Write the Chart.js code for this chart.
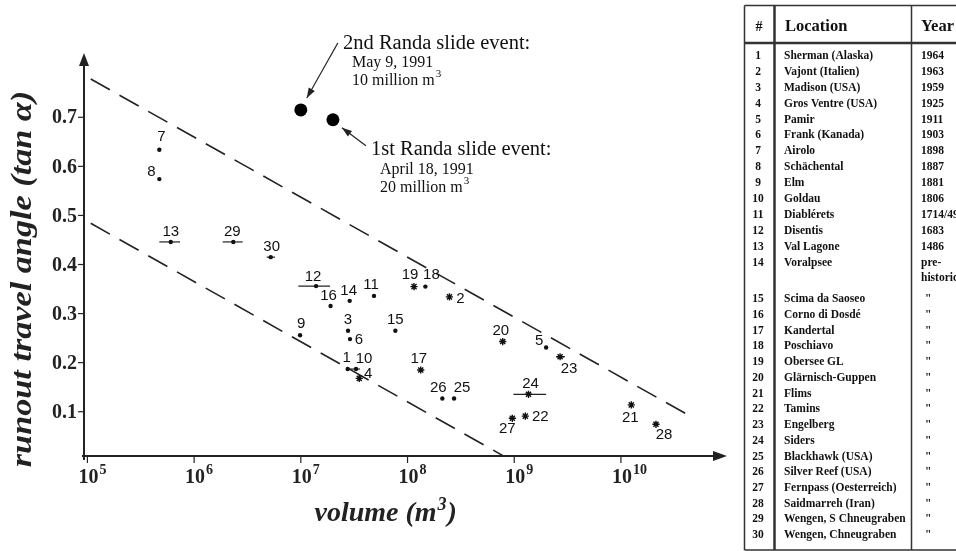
<!DOCTYPE html>
<html>
<head>
<meta charset="utf-8">
<script src="https://cdn.jsdelivr.net/npm/chart.js@4.4.1/dist/chart.umd.min.js"></script>
<style>
  html, body { margin: 0; padding: 0; background: #fff; }
  canvas { display: block; }
</style>
</head>
<body>
<canvas id="runoutChart" width="956" height="551"></canvas>
<script>
// --- data ---
const eventIds = [1, 2, 3, 4, 5, 6, 7, 8, 9, 10, 11, 12, 13, 14, 15, 16, 17, 18, 19, 20, 21, 22, 23, 24, 25, 26, 27, 28, 29, 30];
const volumes = [2.75e7, 2.47e8, 2.77e7, 3.53e7, 1.99e9, 2.89e7, 4.72e5, 4.72e5, 9.84e6, 3.29e7,
                 4.85e7, 1.39e7, 6.04e5, 2.87e7, 7.69e7, 1.9e7, 1.33e8, 1.47e8, 1.15e8, 7.8e8,
                 1.25e10, 1.27e9, 2.69e9, 1.36e9, 2.73e8, 2.12e8, 9.6e8, 2.13e10, 2.33e6, 5.22e6];
const angles = [0.187, 0.334, 0.265, 0.168, 0.231, 0.248, 0.634, 0.574, 0.256, 0.187,
                0.336, 0.356, 0.446, 0.326, 0.265, 0.3155, 0.185, 0.355, 0.355, 0.243,
                0.114, 0.091, 0.212, 0.1355, 0.127, 0.127, 0.0866, 0.0744, 0.446, 0.415];
// events drawn as asterisks, the rest as dots
const starIds = [2, 4, 17, 19, 20, 21, 22, 23, 24, 27, 28];

// volume ranges (horizontal bars)
const rangeIds = [13, 29, 30, 12, 1, 23, 24];
const rangeLow = [4.72e5, 1.85e6, 4.79e6, 9.48e6, 2.69e7, 2.47e9, 9.82e8];
const rangeHigh = [7.38e5, 2.85e6, 5.73e6, 1.88e7, 3.59e7, 2.99e9, 1.99e9];

// Randa events
const randaVolumes = [1.0e7, 2.0e7];
const randaAngles = [0.715, 0.695];
const randaTitles = ['2nd Randa slide event:', '1st Randa slide event:'];
const randaDates = ['May 9, 1991', 'April 18, 1991'];
const randaSizes = ['10 million m', '20 million m'];

// dashed envelope lines
const upperVolumes = [1.074e5, 4.14e10];
const upperAngles = [0.778, 0.095];
const lowerVolumes = [1.074e5, 7.91e8];
const lowerAngles = [0.484, 0.010];

// axes
const xTickExps = [5, 6, 7, 8, 9, 10];
const yTicks = [0.1, 0.2, 0.3, 0.4, 0.5, 0.6, 0.7];
const xTitle = 'volume (m';
const yTitle = 'runout travel angle (tan \u03B1)';

// table
const tableHead = ['#', 'Location', 'Year'];
const locations = ['Sherman (Alaska)', 'Vajont (Italien)', 'Madison (USA)', 'Gros Ventre (USA)', 'Pamir',
  'Frank (Kanada)', 'Airolo', 'Sch\u00e4chental', 'Elm', 'Goldau', 'Diabl\u00e9rets', 'Disentis',
  'Val Lagone', 'Voralpsee', 'Scima da Saoseo', 'Corno di Dosd\u00e9', 'Kandertal', 'Poschiavo',
  'Obersee GL', 'Gl\u00e4rnisch-Guppen', 'Flims', 'Tamins', 'Engelberg', 'Siders', 'Blackhawk (USA)',
  'Silver Reef (USA)', 'Fernpass (Oesterreich)', 'Saidmarreh (Iran)', 'Wengen, S Chneugraben', 'Wengen, Chneugraben'];
const years = ['1964', '1963', '1959', '1925', '1911', '1903', '1898', '1887', '1881', '1806',
  '1714/49', '1683', '1486', 'pre-historic', '"', '"', '"', '"', '"', '"', '"', '"', '"', '"',
  '"', '"', '"', '"', '"', '"'];

// --- label placement for point numbers (px from the marker) ---
const labelOffsets = {
  1: [-1, -11], 2: [11, 2], 3: [0, -11], 4: [9, -5], 5: [-7, -7], 6: [9, 1], 7: [2, -13], 8: [-8, -7],
  9: [1, -11], 10: [8, -10], 11: [-3, -11], 12: [-3, -9], 13: [0, -10], 14: [-1, -10], 15: [0, -11],
  16: [-2, -10], 17: [-2, -11], 18: [6, -12], 19: [-4, -12], 20: [-2, -11], 21: [-1, 13], 22: [15, 1],
  23: [9, 12], 24: [2, -10], 25: [8, -11], 26: [-4, -11], 27: [-5, 11], 28: [8, 11], 29: [-1, -10], 30: [1, -10]
};

const SERIF = '"Liberation Serif", "DejaVu Serif", serif';
const SANS = '"Liberation Sans", Arial, sans-serif';

const pts = eventIds.map((id, i) => ({ x: volumes[i], y: angles[i], id }));
const dotPts = pts.filter(p => !starIds.includes(p.id));
const starPts = pts.filter(p => starIds.includes(p.id));

const rangeSets = rangeIds.map((id, i) => {
  const y = angles[eventIds.indexOf(id)];
  return {
    type: 'line',
    data: [{ x: rangeLow[i], y }, { x: rangeHigh[i], y }],
    borderColor: '#222', borderWidth: 1.2, pointRadius: 0, order: 3
  };
});

function drawSup(ctx, base, sup, x, y, font, supFont, rise, align) {
  ctx.font = font;
  const wb = ctx.measureText(base).width;
  ctx.font = supFont;
  const ws = ctx.measureText(sup).width;
  let x0 = x;
  if (align === 'center') x0 = x - (wb + ws) / 2;
  ctx.textAlign = 'left';
  ctx.font = font;
  ctx.fillText(base, x0, y);
  ctx.font = supFont;
  ctx.fillText(sup, x0 + wb + 1, y - rise);
  return x0 + wb + 1 + ws;
}

function arrow(ctx, x1, y1, x2, y2, head, wid) {
  ctx.beginPath();
  ctx.moveTo(x1, y1);
  ctx.lineTo(x2, y2);
  ctx.stroke();
  const a = Math.atan2(y2 - y1, x2 - x1);
  ctx.beginPath();
  ctx.moveTo(x2, y2);
  ctx.lineTo(x2 - head * Math.cos(a) + wid * Math.sin(a), y2 - head * Math.sin(a) - wid * Math.cos(a));
  ctx.lineTo(x2 - head * Math.cos(a) - wid * Math.sin(a), y2 - head * Math.sin(a) + wid * Math.cos(a));
  ctx.closePath();
  ctx.fill();
}

const figurePlugin = {
  id: 'figure',
  beforeDatasetsDraw(chart) {
    const { ctx, chartArea: a } = chart;
    const xs = chart.scales.x, ys = chart.scales.y;
    ctx.save();
    ctx.strokeStyle = '#222';
    ctx.fillStyle = '#222';
    ctx.lineWidth = 2;
    // axes with arrow heads
    ctx.beginPath();
    ctx.moveTo(a.left, a.bottom + 4);
    ctx.lineTo(a.left, a.top + 8);
    ctx.moveTo(a.left - 2, a.bottom);
    ctx.lineTo(a.right - 8, a.bottom);
    ctx.stroke();
    ctx.beginPath();
    ctx.moveTo(a.left, a.top);
    ctx.lineTo(a.left - 5, a.top + 13);
    ctx.lineTo(a.left + 5, a.top + 13);
    ctx.closePath();
    ctx.fill();
    ctx.beginPath();
    ctx.moveTo(a.right, a.bottom);
    ctx.lineTo(a.right - 14, a.bottom - 5);
    ctx.lineTo(a.right - 14, a.bottom + 5);
    ctx.closePath();
    ctx.fill();

    // y ticks
    ctx.lineWidth = 1.2;
    ctx.textBaseline = 'middle';
    yTicks.forEach(v => {
      const py = ys.getPixelForValue(v);
      ctx.beginPath();
      ctx.moveTo(a.left - 6, py);
      ctx.lineTo(a.left, py);
      ctx.stroke();
      ctx.font = 'bold 20px ' + SERIF;
      ctx.textAlign = 'right';
      ctx.fillText(v.toFixed(1), a.left - 7, py + 1);
    });
    // x ticks
    ctx.textBaseline = 'alphabetic';
    xTickExps.forEach(e => {
      const px = xs.getPixelForValue(Math.pow(10, e));
      ctx.beginPath();
      ctx.moveTo(px, a.bottom);
      ctx.lineTo(px, a.bottom + 7);
      ctx.stroke();
      ctx.font = 'bold 20px ' + SERIF;
      const w = ctx.measureText('10').width;
      drawSup(ctx, '10', String(e), px - w / 2 + 1, a.bottom + 27, 'bold 20px ' + SERIF, 'bold 14px ' + SERIF, 9, 'left');
    });

    // axis titles
    ctx.font = 'italic bold 29px ' + SERIF;
    ctx.textAlign = 'center';
    ctx.save();
    ctx.translate(31, 279);
    ctx.rotate(-Math.PI / 2);
    ctx.scale(1.18, 1);
    ctx.fillText(yTitle, 0, 0);
    ctx.restore();
    const end = drawSup(ctx, xTitle, '3', 380, 521, 'italic bold 28px ' + SERIF, 'italic bold 18px ' + SERIF, 11, 'center');
    ctx.font = 'italic bold 28px ' + SERIF;
    ctx.textAlign = 'left';
    ctx.fillText(')', end + 1, 521);
    ctx.restore();
  },
  afterDatasetsDraw(chart) {
    const { ctx } = chart;
    const xs = chart.scales.x, ys = chart.scales.y;
    ctx.save();
    ctx.fillStyle = '#111';
    // point numbers
    ctx.font = '15px ' + SANS;
    ctx.textAlign = 'center';
    ctx.textBaseline = 'middle';
    pts.forEach(p => {
      const o = labelOffsets[p.id];
      ctx.fillText(String(p.id), xs.getPixelForValue(p.x) + o[0], ys.getPixelForValue(p.y) + o[1]);
    });

    // Randa annotations
    ctx.strokeStyle = '#222';
    ctx.fillStyle = '#222';
    ctx.lineWidth = 1.2;
    const r2x = xs.getPixelForValue(randaVolumes[0]), r2y = ys.getPixelForValue(randaAngles[0]);
    const r1x = xs.getPixelForValue(randaVolumes[1]), r1y = ys.getPixelForValue(randaAngles[1]);
    arrow(ctx, r2x + 37, r2y - 67, r2x + 6, r2y - 12, 10, 3.5);
    arrow(ctx, r1x + 33, r1y + 26, r1x + 9, r1y + 8, 10, 3.5);

    ctx.fillStyle = '#111';
    ctx.textAlign = 'left';
    ctx.textBaseline = 'alphabetic';
    ctx.font = '20.5px ' + SERIF;
    ctx.fillText(randaTitles[0], 343, 49);
    ctx.fillText(randaTitles[1], 371, 155);
    ctx.font = '16px ' + SERIF;
    ctx.fillText(randaDates[0], 352, 67);
    ctx.fillText(randaDates[1], 380, 174);
    drawSup(ctx, randaSizes[0], '3', 352, 85, '16px ' + SERIF, '11px ' + SERIF, 8, 'left');
    drawSup(ctx, randaSizes[1], '3', 380, 192, '16px ' + SERIF, '11px ' + SERIF, 8, 'left');

    // table
    ctx.strokeStyle = '#333';
    ctx.lineWidth = 1.5;
    ctx.beginPath();
    ctx.moveTo(744.5, 5.5); ctx.lineTo(960, 5.5);
    ctx.moveTo(744.5, 5.5); ctx.lineTo(744.5, 550);
    ctx.moveTo(744.5, 550); ctx.lineTo(960, 550);
    ctx.moveTo(911.5, 5.5); ctx.lineTo(911.5, 550);
    ctx.stroke();
    ctx.lineWidth = 2.5;
    ctx.beginPath();
    ctx.moveTo(774.5, 5.5); ctx.lineTo(774.5, 550);
    ctx.moveTo(744.5, 43); ctx.lineTo(960, 43);
    ctx.stroke();

    ctx.fillStyle = '#111';
    ctx.textBaseline = 'middle';
    ctx.font = 'bold 14px ' + SERIF;
    ctx.textAlign = 'center';
    ctx.fillText(tableHead[0], 759, 27);
    ctx.font = 'bold 16.5px ' + SERIF;
    ctx.textAlign = 'left';
    ctx.fillText(tableHead[1], 785, 27);
    ctx.fillText(tableHead[2], 921, 27);

    eventIds.forEach((id, i) => {
      const y = id <= 14 ? 56 + (id - 1) * 15.9 : 299.3 + (id - 15) * 15.73;
      ctx.font = 'bold 11.5px ' + SERIF;
      ctx.textAlign = 'center';
      ctx.fillText(String(id), 758, y);
      ctx.textAlign = 'left';
      ctx.fillText(locations[i], 784, y);
      const yr = years[i];
      if (yr === 'pre-historic') {
        ctx.fillText('pre-', 921, y);
        ctx.fillText('historic', 921, y + 15);
      } else if (yr === '"') {
        ctx.fillText(yr, 925, y);
      } else {
        ctx.fillText(yr, 921, y);
      }
    });
    ctx.restore();
  }
};

new Chart(document.getElementById('runoutChart'), {
  type: 'scatter',
  data: {
    datasets: [
      {
        type: 'line', data: upperVolumes.map((v, i) => ({ x: v, y: upperAngles[i] })),
        borderColor: '#222', borderWidth: 1.6, borderDash: [22, 11], pointRadius: 0, order: 4
      },
      {
        type: 'line', data: lowerVolumes.map((v, i) => ({ x: v, y: lowerAngles[i] })),
        borderColor: '#222', borderWidth: 1.6, borderDash: [22, 11], pointRadius: 0, order: 4
      },
      ...rangeSets,
      {
        data: dotPts, pointStyle: 'circle', pointRadius: 2.2,
        backgroundColor: '#111', borderColor: '#111', borderWidth: 0, order: 1
      },
      {
        data: starPts, pointStyle: 'star', pointRadius: 3.6,
        backgroundColor: '#111', borderColor: '#111', borderWidth: 1.4, order: 1
      },
      {
        data: randaVolumes.map((v, i) => ({ x: v, y: randaAngles[i] })), pointStyle: 'circle', pointRadius: 6.5,
        backgroundColor: '#000', borderColor: '#000', borderWidth: 0, order: 1
      }
    ]
  },
  options: {
    responsive: false,
    animation: false,
    devicePixelRatio: 1,
    layout: { padding: { left: 84, right: 229, top: 53, bottom: 95 } },
    plugins: { legend: { display: false }, tooltip: { enabled: false } },
    scales: {
      x: { type: 'logarithmic', display: false, min: Math.pow(10, 4.968), max: Math.pow(10, 10.994) },
      y: { type: 'linear', display: false, min: 0.0098, max: 0.831 }
    }
  },
  plugins: [figurePlugin]
});
</script>
</body>
</html>
